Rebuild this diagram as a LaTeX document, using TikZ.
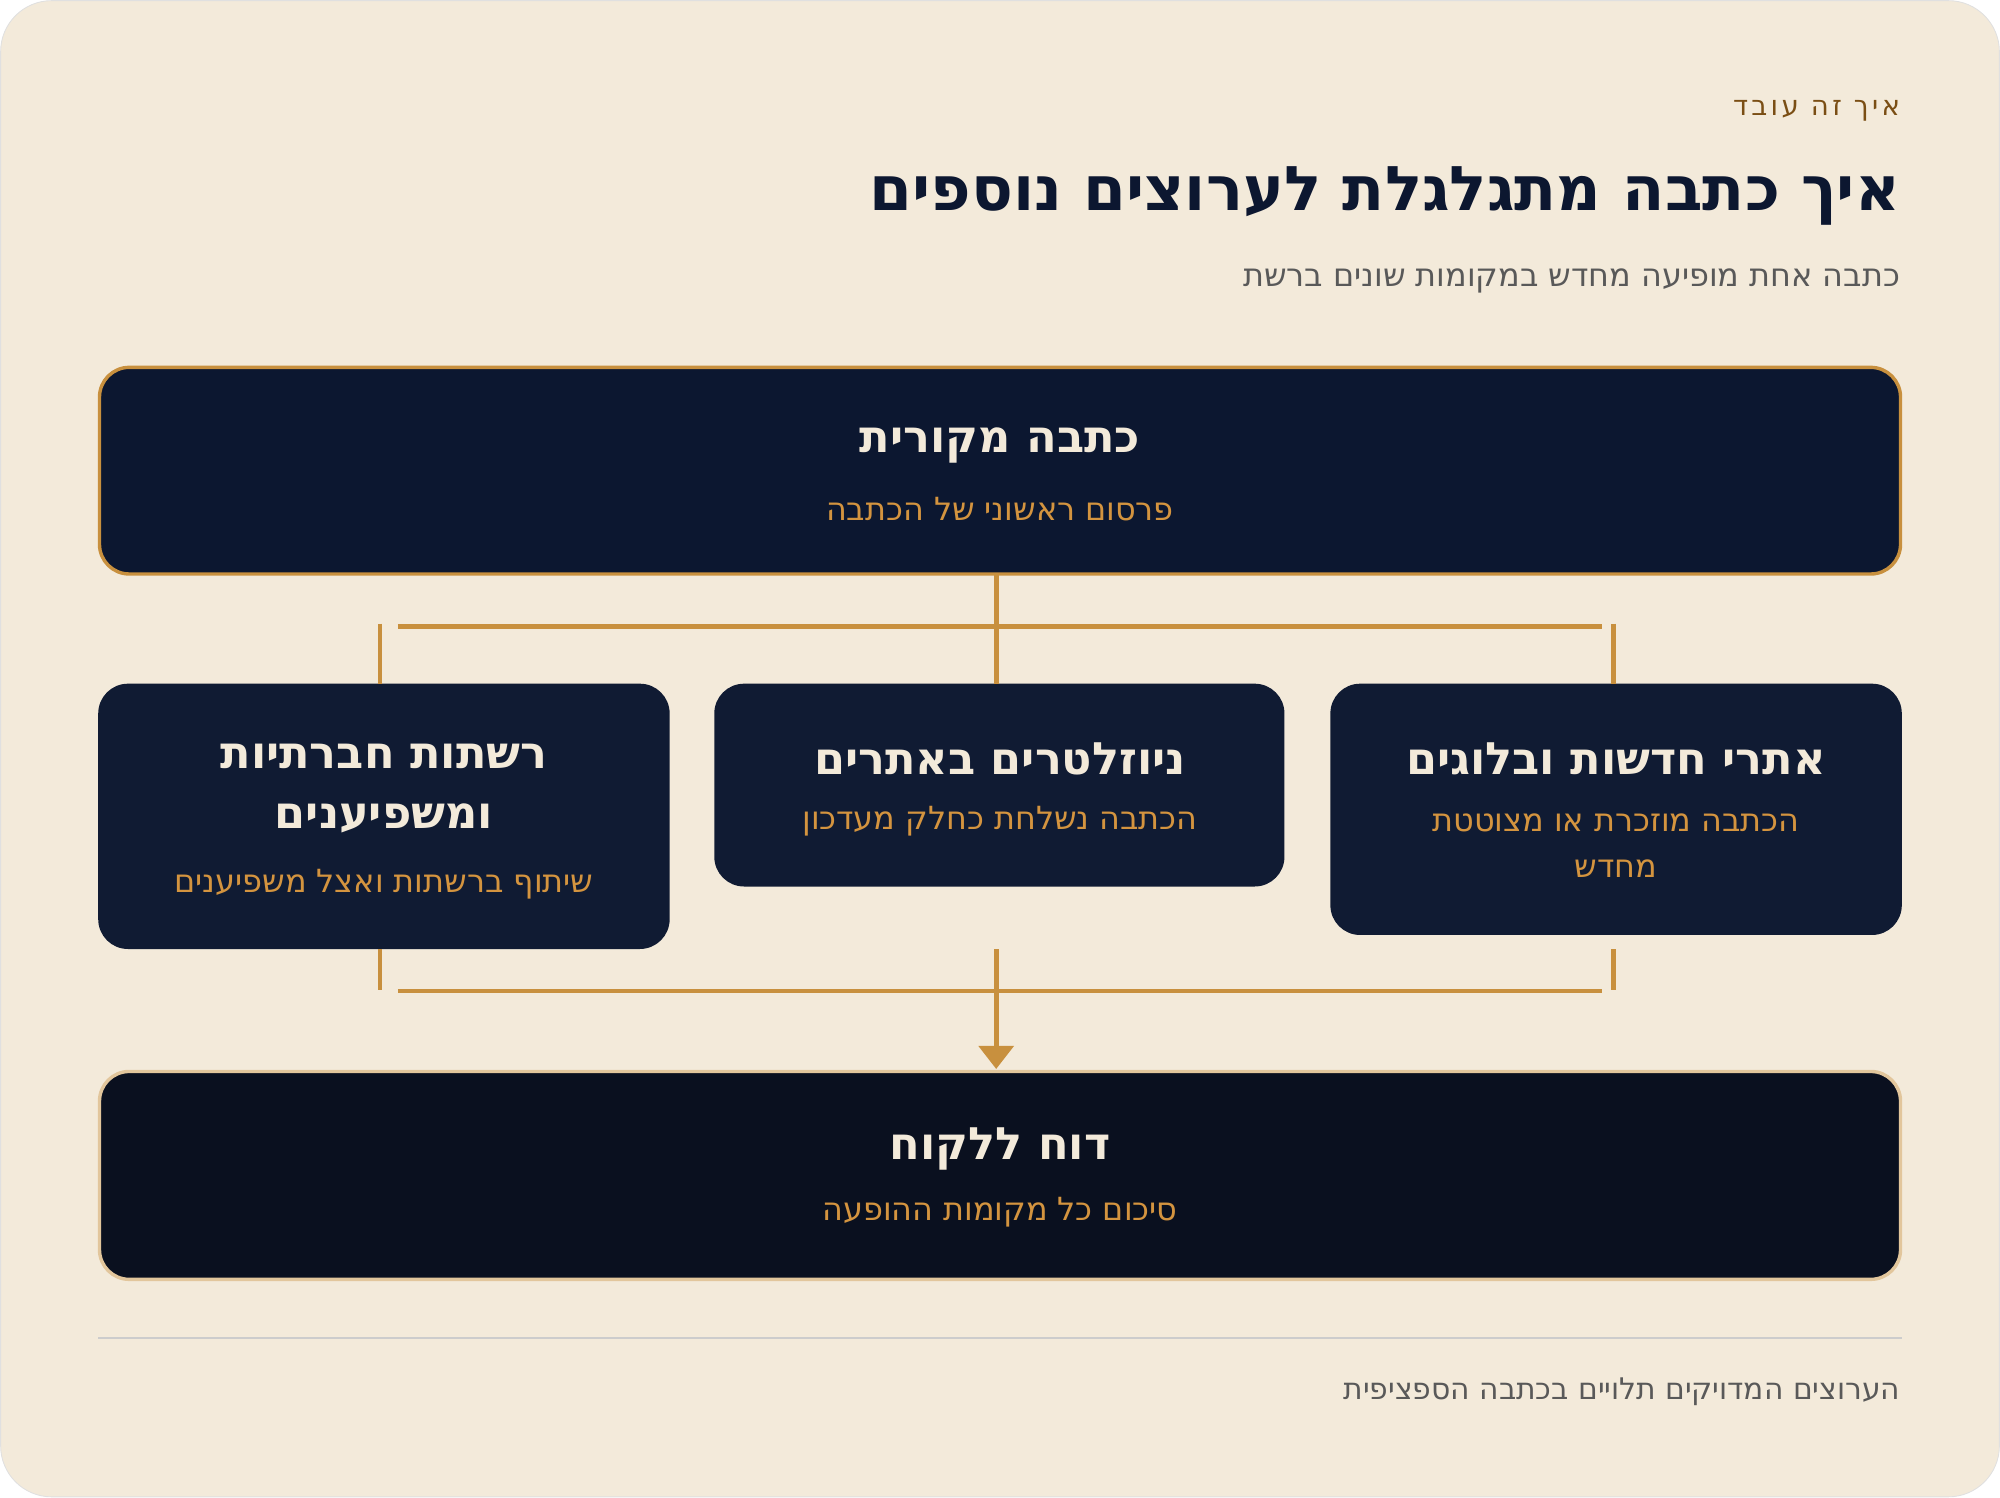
\documentclass[tikz,border=0pt]{standalone}
\usepackage{fontspec}
\setmainfont{DejaVu Sans}
\newfontfamily\spaced[LetterSpace=12]{DejaVu Sans}
\TeXXeTstate=1
\newcommand{\heb}[1]{\beginR #1\endR}
\definecolor{paper}{HTML}{F3EADA}
\definecolor{navy}{HTML}{0C1730}
\definecolor{navymid}{HTML}{101B33}
\definecolor{navydark}{HTML}{0A101F}
\definecolor{gold}{HTML}{C8903E}
\definecolor{goldtext}{HTML}{D4943F}
\definecolor{cream}{HTML}{F3EADA}
\definecolor{kickerbrown}{HTML}{7A4E14}
\tikzset{
  box/.style={draw=none, rounded corners=14pt, inner sep=0pt},
  boxtitle/.style={text=cream, font=\bfseries\fontsize{21}{28}\selectfont, align=center},
  boxsub/.style={text=goldtext, font=\fontsize{15}{22}\selectfont, align=center},
  link/.style={draw=gold, line width=2.2pt},
  rtext/.style={anchor=east, inner sep=0pt},
}
\begin{document}
\begin{tikzpicture}[x=0.6pt,y=-0.6pt]
\useasboundingbox (0,0) rectangle (1568,1174);
\draw[fill=paper, draw=black!12, rounded corners=24pt] (0.5,0.5) rectangle (1567.5,1173.5);

% heading
\node[rtext, text=kickerbrown, font=\spaced\fontsize{13}{16}\selectfont] (kicker) at (1490,87) {\heb{איך זה עובד}};
\node[rtext, text=navy, font=\bfseries\fontsize{29}{36}\selectfont] (title) at (1490,154) {\heb{איך כתבה מתגלגלת לערוצים נוספים}};
\node[rtext, text=black!65, font=\fontsize{15}{18}\selectfont] (subtitle) at (1490,220) {\heb{כתבה אחת מופיעה מחדש במקומות שונים ברשת}};

% boxes
\draw[box, fill=navy, draw=gold, line width=1.6pt] (78,288) rectangle (1490,450);
\node[boxtitle] (srcT) at (784,349) {\heb{כתבה מקורית}};
\node[boxsub] (srcS) at (784,399) {\heb{פרסום ראשוני של הכתבה}};

\fill[box, fill=navymid] (77,536) rectangle (525,744);
\node[boxtitle] (socT) at (301,618) {\heb{רשתות חברתיות}\\\heb{ומשפיענים}};
\node[boxsub] (socS) at (301,693) {\heb{שיתוף ברשתות ואצל משפיענים}};

\fill[box, fill=navymid] (560,536) rectangle (1007,695);
\node[boxtitle] (newsT) at (784,595) {\heb{ניוזלטרים באתרים}};
\node[boxsub] (newsS) at (784,644) {\heb{הכתבה נשלחת כחלק מעדכון}};

\fill[box, fill=navymid] (1043,536) rectangle (1491,733);
\node[boxtitle] (webT) at (1267,595) {\heb{אתרי חדשות ובלוגים}};
\node[boxsub] (webS) at (1267,663) {\heb{הכתבה מוזכרת או מצוטטת}\\\heb{מחדש}};

\draw[box, fill=navydark, draw=gold!40!cream, line width=1.6pt] (78,840) rectangle (1490,1003);
\node[boxtitle] (repT) at (784,901) {\heb{דוח ללקוח}};
\node[boxsub] (repS) at (784,950) {\heb{סיכום כל מקומות ההופעה}};

% connectors
\coordinate (srcB) at (781,450);
\coordinate (busTL) at (312,491);
\coordinate (busTR) at (1256,491);
\coordinate (newsTop) at (781,536);
\coordinate (socTopA) at (298,489);
\coordinate (socTop) at (298,536);
\coordinate (webTopA) at (1265,489);
\coordinate (webTop) at (1265,536);
\draw[link] (srcB) -- (newsTop);
\draw[link] (busTL) -- (busTR);
\draw[link] (socTopA) -- (socTop);
\draw[link] (webTopA) -- (webTop);

\coordinate (socBot) at (298,744);
\coordinate (socBotB) at (298,776);
\coordinate (webBot) at (1265,744);
\coordinate (webBotB) at (1265,776);
\coordinate (busBL) at (312,777);
\coordinate (busBR) at (1256,777);
\coordinate (midBot) at (781,744);
\coordinate (repTop) at (781,823);
\draw[link] (socBot) -- (socBotB);
\draw[link] (webBot) -- (webBotB);
\draw[link] (busBL) -- (busBR);
\draw[link] (midBot) -- (repTop);
\fill[gold] (767,820) -- (795,820) -- (781,838) -- cycle;

% footer
\coordinate (ruleL) at (77,1049);
\coordinate (ruleR) at (1491,1049);
\draw[black!20, line width=0.8pt] (ruleL) -- (ruleR);
\node[rtext, text=black!65, font=\fontsize{14}{17}\selectfont] (footer) at (1490,1091) {\heb{הערוצים המדויקים תלויים בכתבה הספציפית}};
\end{tikzpicture}
\end{document}
